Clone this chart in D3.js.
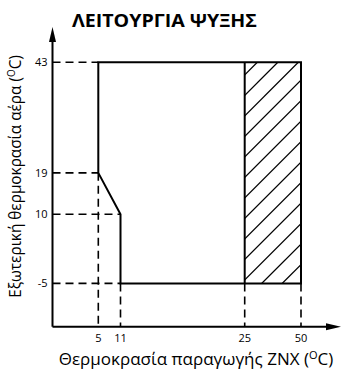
<!DOCTYPE html>
<html><head><meta charset="utf-8">
<script src="https://cdn.jsdelivr.net/npm/d3@7"></script>
<style>body{margin:0;background:#fff}svg{display:block}</style>
</head><body><svg id="c" width="342" height="369"></svg>
<script>
const title = "ΛΕΙΤΟΥΡΓΙΑ ΨΥΞΗΣ";
const xLabel = "Θερμοκρασία παραγωγής ZNX (";
const yLabel = "Εξωτερική θερμοκρασία αέρα (";
const xTicks = [5, 11, 25, 50];
const yTicks = [-5, 10, 19, 43];
// operating envelope outline (water temp, air temp)
const envelopeX = [5, 50, 50, 11, 11, 5];
const envelopeY = [43, 43, -5, -5, 10, 19];
// hatched zone
const hatchX = [25, 50];
const hatchY = [-5, 43];

const svg = d3.select("#c");
const font = "'Open Sans', sans-serif";
const x = d3.scaleLinear().domain([0, 5, 11, 25, 50, 65]).range([52.5, 98.3, 120.5, 244.7, 301, 340]);
const y = d3.scaleLinear().domain([-14.4, 43]).range([326.7, 62.3]);
const x0 = x(0), yB = y(-14.4);

// hatch pattern clipped
const defs = svg.append("defs");
defs.append("clipPath").attr("id", "hc").append("rect")
  .attr("x", x(hatchX[0])).attr("y", y(hatchY[1]))
  .attr("width", x(hatchX[1]) - x(hatchX[0])).attr("height", y(hatchY[0]) - y(hatchY[1]));
const hg = svg.append("g").attr("clip-path", "url(#hc)");
const hx0 = x(hatchX[0]), hx1 = x(hatchX[1]), hy0 = y(hatchY[1]), hy1 = y(hatchY[0]);
for (let k = -300; k < 100; k += 20.5) {
  const sx = hx0 + k + 20;
  hg.append("line").attr("x1", sx).attr("y1", hy1 + 10).attr("x2", sx + (hy1 - hy0 + 20)).attr("y2", hy0 - 10)
    .attr("stroke", "#000").attr("stroke-width", 1.3);
}

// dashed guides
const dash = "8,5";
const guides = [
  [[0, 43], [5, 43]], [[0, 19], [5, 19]], [[0, 10], [11, 10]], [[0, -5], [11, -5]],
  [[5, 19], [5, -14.4]], [[11, -5], [11, -14.4]], [[25, -5], [25, -14.4]], [[50, -5], [50, -14.4]]
];
svg.append("g").selectAll("line").data(guides).join("line")
  .attr("x1", d => x(d[0][0])).attr("y1", d => y(d[0][1]))
  .attr("x2", d => x(d[1][0])).attr("y2", d => y(d[1][1]))
  .attr("stroke", "#000").attr("stroke-width", 1.6).attr("stroke-dasharray", dash);

// envelope
const pts = envelopeX.map((v, i) => [x(v), y(envelopeY[i])]);
svg.append("path").attr("d", d3.line()(pts) + "Z").attr("fill", "none")
  .attr("stroke", "#000").attr("stroke-width", 2).attr("stroke-linejoin", "miter");
svg.append("line").attr("x1", x(25)).attr("x2", x(25)).attr("y1", y(43)).attr("y2", y(-5))
  .attr("stroke", "#000").attr("stroke-width", 2);

// axes
svg.append("line").attr("x1", x0).attr("x2", x0).attr("y1", yB).attr("y2", 40).attr("stroke", "#000").attr("stroke-width", 2);
svg.append("path").attr("d", `M${x0},27 L${x0-3.5},42 L${x0+3.5},42Z`).attr("fill", "#000");
svg.append("line").attr("x1", x0).attr("x2", 328).attr("y1", yB).attr("y2", yB).attr("stroke", "#000").attr("stroke-width", 2);
svg.append("path").attr("d", `M341,${yB} L326,${yB-3.5} L326,${yB+3.5}Z`).attr("fill", "#000");

// tick labels
svg.append("g").selectAll("text").data(xTicks).join("text")
  .attr("x", d => x(d)).attr("y", 342).attr("text-anchor", "middle")
  .attr("font-family", font).attr("font-size", 11).text(d => d);
svg.append("g").selectAll("text").data(yTicks).join("text")
  .attr("x", x0 - 5).attr("y", d => y(d) + 4).attr("text-anchor", "end")
  .attr("font-family", font).attr("font-size", 11).text(d => d);

// title
svg.append("text").attr("x", 164.5).attr("y", 27).attr("text-anchor", "middle")
  .attr("font-family", font).attr("font-weight", "bold").attr("font-size", 18)
  .attr("textLength", 185).attr("lengthAdjust", "spacingAndGlyphs").text(title);

// x label
const xl = svg.append("text").attr("x", 196).attr("y", 365).attr("text-anchor", "middle")
  .attr("font-family", font).attr("font-size", 17);
xl.append("tspan").text(xLabel);
xl.append("tspan").attr("font-size", 11).attr("dy", -6).text("O");
xl.append("tspan").attr("dy", 6).text("C)");

// y label (condensed to fit the reference length)
const ylg = svg.append("g").attr("transform", "translate(21,176.5) rotate(-90)");
const yls = ylg.append("g");
const yl = yls.append("text").attr("text-anchor", "middle")
  .attr("font-family", font).attr("font-size", 15.5);
yl.append("tspan").text(yLabel);
yl.append("tspan").attr("font-size", 10).attr("dy", -6).text("O");
yl.append("tspan").attr("dy", 6).text("C)");
const bb = yl.node().getBBox();
const sx = 243 / bb.width;
yls.attr("transform", `scale(${sx},1) translate(${-(bb.x + bb.width / 2)},0)`);
</script></body></html>
